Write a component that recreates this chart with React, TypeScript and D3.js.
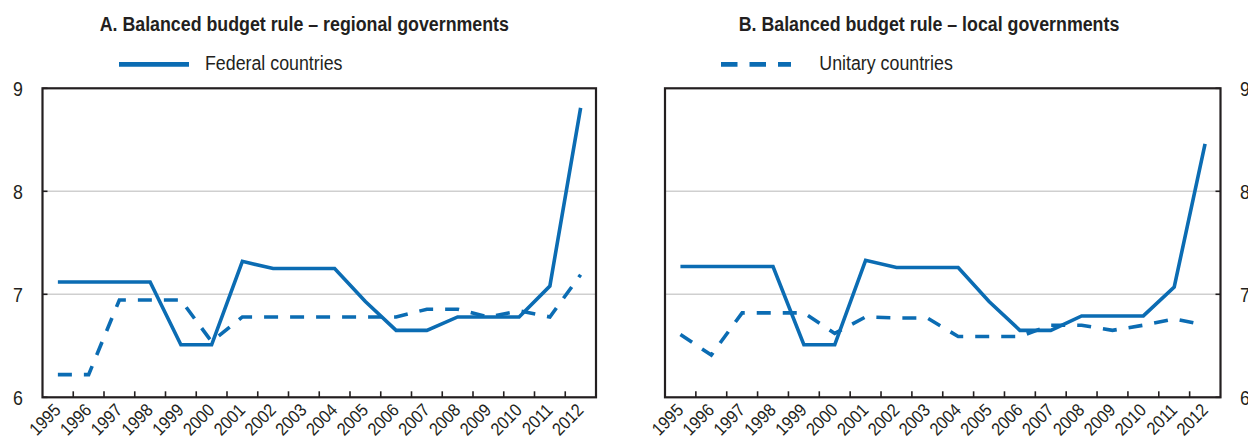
import React from 'react';
import * as d3 from 'd3';

// Years on the horizontal axis
const years = [
  '1995', '1996', '1997', '1998', '1999', '2000', '2001', '2002', '2003',
  '2004', '2005', '2006', '2007', '2008', '2009', '2010', '2011', '2012',
];

// Panel A: balanced budget rule, regional governments
const regionalFederal = [7.12, 7.12, 7.12, 7.12, 6.51, 6.51, 7.32, 7.25, 7.25, 7.25, 6.93, 6.65, 6.65, 6.78, 6.78, 6.78, 7.08, 8.81];
const regionalUnitary = [6.22, 6.22, 6.945, 6.945, 6.945, 6.54, 6.78, 6.78, 6.78, 6.78, 6.78, 6.78, 6.855, 6.855, 6.78, 6.84, 6.78, 7.19];

// Panel B: balanced budget rule, local governments
const localFederal = [7.27, 7.27, 7.27, 7.27, 6.51, 6.51, 7.33, 7.26, 7.26, 7.26, 6.93, 6.65, 6.65, 6.79, 6.79, 6.79, 7.07, 8.46];
const localUnitary = [6.61, 6.41, 6.82, 6.82, 6.82, 6.62, 6.78, 6.77, 6.77, 6.59, 6.59, 6.59, 6.70, 6.70, 6.65, 6.70, 6.76, 6.70];

const yTicks = [6, 7, 8, 9];
const gridValues = [7, 8];

const titles = [
  'A. Balanced budget rule – regional governments',
  'B. Balanced budget rule – local governments',
];
const legendLabels = ['Federal countries', 'Unitary countries'];

const BLUE = '#0b6cb3';
const INK = '#231f20';
const FONT = "'Liberation Sans', Arial, Helvetica, sans-serif";
const SQUEEZE = 0.89; // condensed look for all text

const TOP = 88.3;
const BOTTOM = 397.3;

type TextProps = {
  x: number;
  y: number;
  size: number;
  anchor?: 'start' | 'middle' | 'end';
  weight?: string;
  rotate?: number;
  dy?: string;
  children: React.ReactNode;
};

function CText({ x, y, size, anchor = 'start', weight = 'normal', rotate = 0, dy, children }: TextProps) {
  return (
    <g transform={`translate(${x},${y}) rotate(${rotate}) scale(${SQUEEZE},1)`}>
      <text
        fontFamily={FONT}
        fontSize={size}
        fontWeight={weight}
        textAnchor={anchor}
        dy={dy}
        fill={INK}
      >
        {children}
      </text>
    </g>
  );
}

type PanelProps = {
  x0: number;
  x1: number;
  title: string;
  titleX: number;
  federal: number[];
  unitary: number[];
  side: 'left' | 'right';
  legend: { label: string; dashed: boolean; lineX0: number; lineX1: number; textX: number };
};

function Panel({ x0, x1, title, titleX, federal, unitary, side, legend }: PanelProps) {
  const x = d3.scalePoint<string>().domain(years).range([x0, x1]).padding(0.5);
  const band = d3.scaleBand<string>().domain(years).range([x0, x1]);
  const y = d3.scaleLinear().domain([6, 9]).range([BOTTOM, TOP]);

  const line = d3
    .line<number>()
    .x((_, i) => x(years[i]) as number)
    .y((d) => y(d));

  const axisX = side === 'left' ? x0 : x1;
  const tickDir = side === 'left' ? 1 : -1;
  const labelX = side === 'left' ? x0 - 19.5 : x1 + 19.5;

  return (
    <g>
      <CText x={titleX} y={31} size={20} weight="bold" anchor="middle">
        {title}
      </CText>

      {/* legend entry */}
      <line
        x1={legend.lineX0}
        x2={legend.lineX1}
        y1={64.3}
        y2={64.3}
        stroke={BLUE}
        strokeWidth={4.7}
        strokeDasharray={legend.dashed ? '16.5,12' : undefined}
      />
      <CText x={legend.textX} y={69.5} size={20}>
        {legend.label}
      </CText>

      {/* gridlines */}
      {gridValues.map((v) => (
        <line key={v} x1={x0} x2={x1} y1={y(v)} y2={y(v)} stroke="#cfcfcf" strokeWidth={1.6} />
      ))}

      {/* series */}
      <path d={line(unitary) ?? ''} fill="none" stroke={BLUE} strokeWidth={3.6} strokeDasharray="14,12" />
      <path d={line(federal) ?? ''} fill="none" stroke={BLUE} strokeWidth={3.6} strokeLinejoin="miter" />

      {/* frame */}
      <rect x={x0} y={TOP} width={x1 - x0} height={BOTTOM - TOP} fill="none" stroke={INK} strokeWidth={2.2} />

      {/* x ticks at category boundaries */}
      {years.slice(1).map((yr) => {
        const bx = band(yr) as number;
        return <line key={yr} x1={bx} x2={bx} y1={BOTTOM} y2={BOTTOM - 6} stroke={INK} strokeWidth={1.6} />;
      })}

      {/* y ticks */}
      {yTicks.map((t) => (
        <line
          key={t}
          x1={axisX}
          x2={axisX + tickDir * 5}
          y1={y(t)}
          y2={y(t)}
          stroke={INK}
          strokeWidth={1.6}
        />
      ))}

      {/* y labels */}
      {yTicks.map((t) => (
        <CText key={t} x={labelX} y={y(t)} size={20} anchor={side === 'left' ? 'end' : 'start'} dy="0.36em">
          {String(t)}
        </CText>
      ))}

      {/* x labels */}
      {years.map((yr) => (
        <CText key={yr} x={(x(yr) as number) + 4} y={BOTTOM + 14} size={18} anchor="end" rotate={-45}>
          {yr}
        </CText>
      ))}
    </g>
  );
}

export default function App() {
  return (
    <svg
      width={1248}
      height={442}
      viewBox="0 0 1248 442"
      style={{ position: 'absolute', left: 0, top: 0, background: '#ffffff' }}
    >
      <rect width={1248} height={442} fill="#ffffff" />
      <Panel
        x0={42.5}
        x1={596}
        title={titles[0]}
        titleX={304.3}
        federal={regionalFederal}
        unitary={regionalUnitary}
        side="left"
        legend={{ label: legendLabels[0], dashed: false, lineX0: 119, lineX1: 189, textX: 205 }}
      />
      <Panel
        x0={665}
        x1={1220.5}
        title={titles[1]}
        titleX={929}
        federal={localFederal}
        unitary={localUnitary}
        side="right"
        legend={{ label: legendLabels[1], dashed: true, lineX0: 721, lineX1: 791, textX: 819.3 }}
      />
    </svg>
  );
}
